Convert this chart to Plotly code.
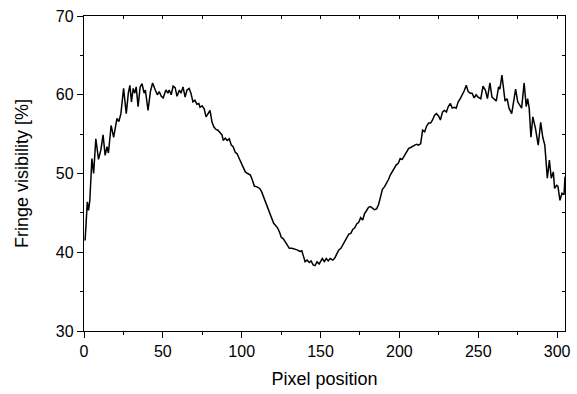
import plotly.graph_objects as go

# Pixel position (x) and fringe visibility in % (y)
pixel = [0.7, 1.3, 2.1, 2.9, 3.7, 5.0, 6.1, 7.5, 9.2, 10.7, 12.1, 13.4, 14.6, 15.5,
         17.2, 18.8, 20.9, 22.1, 23.4, 25.1, 26.8, 28.1, 29.1, 30.1, 31.2, 32.2,
         33.1, 34.3, 35.6, 36.8, 38.1, 38.9, 40.6, 42.1, 43.5, 45.2, 46.5, 47.7,
         49.0, 50.2, 51.9, 53.2, 54.0, 55.3, 56.5, 57.8, 59.0, 60.5, 61.5, 62.8,
         64.1, 65.3, 66.7, 67.8, 69.1, 70.3, 71.6, 72.8, 73.6, 74.9, 76.2, 77.4,
         78.7, 79.9, 81.2, 82.4, 83.7, 84.9, 86.2, 87.5, 88.3, 89.6, 90.8, 92.1,
         93.4, 94.6, 95.9, 97.1, 98.4, 99.6, 100.9, 102.3, 103.8, 105.5, 106.7,
         108.0, 109.7, 111.4, 112.6, 113.9, 115.1, 116.4, 117.7, 118.9, 120.2,
         121.5, 122.7, 123.9, 125.1, 126.4, 127.7, 128.9, 130.2, 131.8, 133.5,
         135.2, 136.8, 138.1, 139.0, 140.2, 141.5, 142.8, 144.0, 145.3, 146.5,
         147.8, 149.1, 150.3, 151.1, 152.4, 153.6, 154.9, 156.1, 157.8, 159.1,
         160.3, 161.6, 162.9, 164.1, 165.4, 166.6, 167.9, 169.2, 170.4, 171.7,
         172.9, 174.2, 175.4, 176.7, 177.9, 179.2, 180.4, 181.7, 183.0, 184.2,
         185.5, 186.7, 188.0, 189.2, 190.5, 191.7, 193.0, 194.2, 195.5, 196.7,
         198.0, 199.3, 200.5, 201.8, 203.4, 204.7, 205.9, 207.2, 208.5, 209.7,
         211.0, 212.2, 213.5, 214.7, 216.0, 217.2, 218.5, 219.8, 221.0, 222.3,
         223.5, 224.8, 226.0, 227.3, 228.5, 229.8, 231.0, 232.3, 233.5, 234.8,
         236.0, 237.3, 238.6, 239.8, 241.1, 242.4, 243.6, 244.9, 246.1, 247.4,
         248.6, 249.9, 251.6, 253.0, 254.5, 255.8, 257.4, 258.7, 260.0, 261.4,
         262.9, 263.7, 265.0, 266.3, 267.0, 268.3, 269.5, 271.2, 272.5, 273.7,
         275.0, 276.3, 277.5, 279.1, 280.4, 281.3, 282.3, 283.4, 284.6, 286.3,
         288.0, 289.6, 290.9, 292.2, 293.8, 295.1, 296.3, 297.6, 298.4, 299.7,
         300.5, 301.8, 303.1, 304.4, 305.0]

visibility = [41.5, 44.0, 46.4, 45.3, 46.6, 51.9, 50.0, 54.4, 51.8, 53.0, 54.9, 52.3, 53.4, 52.6,
              56.1, 54.6, 57.0, 56.6, 57.6, 60.8, 57.6, 60.2, 61.2, 59.1, 60.8, 60.2,
              61.0, 58.5, 61.0, 61.4, 60.2, 60.6, 58.0, 60.4, 61.5, 60.6, 60.0, 60.4,
              59.8, 59.6, 60.6, 60.2, 60.6, 60.0, 61.1, 60.9, 59.8, 60.6, 60.2, 61.0,
              59.7, 60.6, 60.8, 60.2, 59.1, 59.3, 58.8, 58.9, 58.4, 58.6, 58.2, 57.2,
              57.7, 58.0, 56.5, 55.9, 55.6, 55.5, 55.2, 54.9, 54.2, 54.5, 54.2, 54.4,
              53.6, 53.4, 52.7, 52.5, 51.9, 51.3, 50.8, 50.2, 50.0, 49.8, 49.2,
              48.4, 48.3, 48.1, 47.7, 47.0, 46.4, 45.8, 45.2, 44.5, 43.7,
              43.4, 43.1, 42.6, 41.9, 41.7, 41.3, 40.9, 40.5, 40.5, 40.4,
              40.3, 40.1, 40.2, 39.6, 38.8, 39.0, 38.7, 38.9, 38.4, 38.3,
              38.8, 38.5, 39.0, 39.2, 38.8, 39.2, 38.9, 39.2, 39.0, 39.3,
              39.8, 40.3, 40.5, 40.9, 41.3, 41.8, 42.3, 42.4, 42.9, 43.1,
              43.6, 43.8, 44.4, 44.1, 44.9, 45.3, 45.7, 45.8, 45.6, 45.4,
              45.5, 46.0, 47.0, 48.0, 48.3, 48.7, 49.2, 49.8, 50.2, 50.6,
              51.1, 51.3, 51.9, 51.8, 52.3, 52.7, 53.2, 53.3, 53.5, 53.6,
              53.7, 53.6, 53.8, 55.5, 55.3, 56.0, 56.4, 56.4, 56.8, 57.4,
              57.6, 57.3, 56.8, 57.8, 58.0, 57.8, 58.5, 58.9, 58.3, 58.4,
              58.3, 59.1, 59.5, 59.9, 60.5, 61.2, 60.4, 60.2, 60.2, 59.6,
              60.0, 59.7, 59.5, 61.1, 60.6, 59.5, 61.5, 59.7, 59.5, 59.2,
              61.0, 60.7, 62.5, 60.6, 59.2, 59.5, 58.3, 57.6, 59.1, 60.7,
              59.1, 58.7, 58.3, 61.5, 58.5, 59.5, 58.3, 54.6, 57.2, 55.7,
              53.6, 56.5, 54.6, 53.6, 49.4, 51.7, 49.4, 50.2, 48.1, 48.5,
              48.4, 46.6, 47.5, 47.3, 49.6]

x_major = [0, 50, 100, 150, 200, 250, 300]
y_major = [30, 40, 50, 60, 70]
x_all_ticks = [0, 25, 50, 75, 100, 125, 150, 175, 200, 225, 250, 275, 300]
y_all_ticks = [30, 35, 40, 45, 50, 55, 60, 65, 70]

FONT = "Arial, Liberation Sans, Arimo, sans-serif"

fig = go.Figure()
fig.add_trace(go.Scatter(x=pixel, y=visibility, mode="lines",
                         line=dict(color="black", width=1.5),
                         showlegend=False, hoverinfo="x+y"))
# invisible trace to anchor top/right mirror axes
fig.add_trace(go.Scatter(x=pixel, y=visibility, mode="lines", xaxis="x2", yaxis="y2",
                         line=dict(color="rgba(0,0,0,0)", width=0),
                         showlegend=False, hoverinfo="skip"))

fig.update_layout(
    width=577, height=394,
    margin=dict(l=84, r=7, t=16, b=63),
    paper_bgcolor="white", plot_bgcolor="white",
    font=dict(family=FONT, size=16, color="black"),
    xaxis=dict(range=[0, 305], tickvals=x_major, ticks="outside", ticklen=6,
               tickwidth=1.2, tickcolor="black", showline=True, linecolor="black",
               linewidth=1.3, showgrid=False, zeroline=False,
               minor=dict(tickvals=[25, 75, 125, 175, 225, 275], ticks="outside",
                          ticklen=3, tickwidth=1.2, tickcolor="black", showgrid=False),
               tickfont=dict(size=16),
               title=dict(text="Pixel position", font=dict(size=18), standoff=13)),
    yaxis=dict(range=[30, 70], tickvals=y_major, ticks="outside", ticklen=6,
               tickwidth=1.2, tickcolor="black", showline=True, linecolor="black",
               linewidth=1.3, showgrid=False, zeroline=False,
               minor=dict(tickvals=[35, 45, 55, 65], ticks="outside",
                          ticklen=3, tickwidth=1.2, tickcolor="black", showgrid=False),
               tickfont=dict(size=16),
               title=dict(text="Fringe visibility [%]", font=dict(size=18), standoff=22)),
    xaxis2=dict(range=[0, 305], overlaying="x", side="top", tickvals=x_all_ticks,
                ticks="inside", ticklen=3, tickwidth=1.2, tickcolor="black",
                showticklabels=False, showline=True, linecolor="black", linewidth=1.3,
                showgrid=False, zeroline=False),
    yaxis2=dict(range=[30, 70], overlaying="y", side="right", tickvals=y_all_ticks,
                ticks="inside", ticklen=3, tickwidth=1.2, tickcolor="black",
                showticklabels=False, showline=True, linecolor="black", linewidth=1.3,
                showgrid=False, zeroline=False),
)

fig.write_html("out.html")
